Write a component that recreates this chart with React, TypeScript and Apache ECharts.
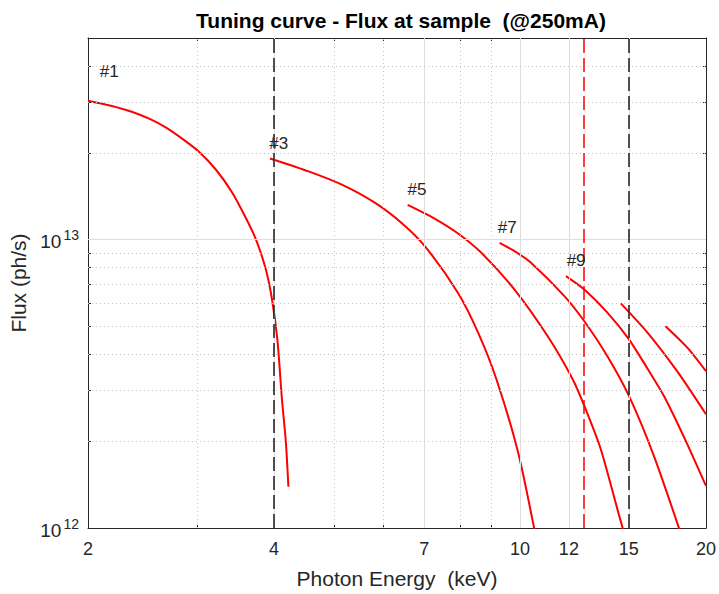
import React, { useEffect, useRef } from 'react';
import * as echarts from 'echarts';

// ---- axes ----
const xMin = 2;
const xMax = 20;
const yMin = 1e12;
const yMax = 5e13;
const xMajorTicks = [2, 4, 7, 10, 12, 15, 20];
const xMinorTicks = [3, 5, 6, 8, 9];
const yMajorTicks = [1e12, 1e13];
const yMinorTicks = [2e12, 3e12, 4e12, 5e12, 6e12, 7e12, 8e12, 9e12, 2e13, 3e13, 4e13];

// ---- harmonics (photon energy keV, flux ph/s) ----
const h1Energy = [2.0, 2.178, 2.36, 2.517, 2.68, 2.847, 3.03, 3.22, 3.42, 3.6, 3.74, 3.88, 3.97, 4.05, 4.12, 4.18, 4.22];
const h1Flux = [3.03e13, 2.91e13, 2.77e13, 2.62e13, 2.44e13, 2.23e13, 2.01e13, 1.75e13, 1.46e13, 1.19e13, 1.0e13, 7.87e12, 6.2e12, 4.51e12, 2.79e12, 1.99e12, 1.39e12];

const h3Energy = [3.94, 4.56, 5.15, 5.83, 6.44, 7.02, 7.94, 8.56, 9.16, 9.93, 10.57];
const h3Flux = [1.91e13, 1.72e13, 1.55e13, 1.34e13, 1.14e13, 9.48e12, 6.53e12, 4.75e12, 3.28e12, 1.83e12, 0.97e12];

const h5Energy = [6.58, 7.24, 7.94, 8.66, 9.8, 11.09, 12.17, 12.71, 13.51, 14.38, 14.7];
const h5Flux = [1.32e13, 1.19e13, 1.05e13, 9.0e12, 6.71e12, 4.62e12, 3.28e12, 2.65e12, 1.88e12, 1.16e12, 0.98e12];

const h7Energy = [9.27, 9.84, 10.43, 11.8, 12.71, 13.85, 15.01, 16.47, 18.14];
const h7Flux = [9.75e12, 9.07e12, 8.3e12, 6.37e12, 5.21e12, 3.94e12, 2.87e12, 1.78e12, 0.98e12];

const h9Energy = [11.87, 12.71, 13.85, 15.01, 16.07, 17.1, 18.5, 20.0];
const h9Flux = [7.47e12, 6.71e12, 5.58e12, 4.51e12, 3.58e12, 2.87e12, 2.03e12, 1.4e12];

const h11Energy = [14.56, 16.07, 17.97, 20.0];
const h11Flux = [6.01e12, 4.77e12, 3.49e12, 2.48e12];

const h13Energy = [17.2, 18.64, 20.0];
const h13Flux = [5.01e12, 4.23e12, 3.5e12];

const harmonicNames = ['#1', '#3', '#5', '#7', '#9', '#11', '#13'];
const harmonicEnergy = [h1Energy, h3Energy, h5Energy, h7Energy, h9Energy, h11Energy, h13Energy];
const harmonicFlux = [h1Flux, h3Flux, h5Flux, h7Flux, h9Flux, h11Flux, h13Flux];

// ---- annotations ----
const labelNames = ['#1', '#3', '#5', '#7', '#9'];
const labelEnergy = [2.09, 3.93, 6.58, 9.21, 11.9];
const labelFlux = [3.83e13, 2.16e13, 1.49e13, 1.1e13, 8.44e12];

const blackMarkers = [4, 15];
const redMarkers = [12.66];

const titleText = 'Tuning curve - Flux at sample  (@250mA)';
const xName = 'Photon Energy  (keV)';
const yName = 'Flux (ph/s)';

const FONT = "'Liberation Sans', Arial, Helvetica, sans-serif";
const AX = '#262626';
const lg = (v: number) => Math.log10(v);

function xTickAxis(values: number[], len: number, position: string, labels: boolean, line: boolean) {
  return {
    type: 'value',
    gridIndex: 0,
    position,
    min: lg(xMin),
    max: lg(xMax),
    axisLine: { show: line, onZero: false, lineStyle: { color: AX, width: 1 } },
    axisTick: { show: true, inside: true, length: len, customValues: values.map(lg), lineStyle: { color: AX, width: 1 } },
    axisLabel: labels
      ? {
          show: true,
          customValues: values.map(lg),
          formatter: (v: number) => String(Math.round(Math.pow(10, v))),
          color: AX,
          fontSize: 18,
          fontFamily: FONT,
          margin: 12,
        }
      : { show: false },
    splitLine: { show: false },
    ...(labels
      ? {
          name: xName,
          nameLocation: 'middle',
          nameGap: 40,
          nameTextStyle: { color: AX, fontSize: 21, fontFamily: FONT },
        }
      : {}),
  };
}

function yTickAxis(values: number[], len: number, position: string, labels: boolean, line: boolean) {
  return {
    type: 'value',
    gridIndex: 0,
    position,
    min: lg(yMin),
    max: lg(yMax),
    axisLine: { show: line, onZero: false, lineStyle: { color: AX, width: 1 } },
    axisTick: { show: true, inside: true, length: len, customValues: values.map(lg), lineStyle: { color: AX, width: 1 } },
    axisLabel: labels
      ? {
          show: true,
          customValues: values.map(lg),
          formatter: (v: number) => `{b|10}{s|${Math.round(v)}}`,
          margin: 9,
          rich: {
            b: { fontSize: 19, fontFamily: FONT, color: AX, verticalAlign: 'bottom' },
            s: { fontSize: 14, fontFamily: FONT, color: AX, verticalAlign: 'bottom', padding: [0, 0, 9, 2] },
          },
        }
      : { show: false },
    splitLine: { show: false },
    ...(labels
      ? {
          name: yName,
          nameLocation: 'middle',
          nameGap: 56,
          nameTextStyle: { color: AX, fontSize: 21, fontFamily: FONT },
        }
      : {}),
  };
}

export default function App() {
  const ref = useRef<HTMLDivElement>(null);

  useEffect(() => {
    if (!ref.current) return;
    const chart = echarts.init(ref.current, undefined, { renderer: 'svg' });

    const dotted = { color: '#c4c4c4', width: 1, type: [1, 3] };
    const solid = { color: '#dedede', width: 1, type: 'solid' };
    const gridLines: any[] = [
      ...xMinorTicks.map((v) => ({ xAxis: v, lineStyle: dotted })),
      ...xMajorTicks.filter((v) => v > xMin && v < xMax).map((v) => ({ xAxis: v, lineStyle: solid })),
      ...yMinorTicks.map((v) => ({ yAxis: v, lineStyle: dotted })),
      ...yMajorTicks.filter((v) => v > yMin && v < yMax).map((v) => ({ yAxis: v, lineStyle: solid })),
    ];

    const markerLines: any[] = [
      ...blackMarkers.map((v) => ({ xAxis: v, lineStyle: { color: '#1a1a1a', width: 1.5, type: [14, 5] } })),
      ...redMarkers.map((v) => ({ xAxis: v, lineStyle: { color: '#ff0000', width: 1.5, type: [14, 5] } })),
    ];

    const curveSeries = harmonicNames.map((name, k) => ({
      name,
      type: 'line',
      xAxisIndex: 0,
      yAxisIndex: 0,
      data: harmonicEnergy[k].map((e, i) => [e, harmonicFlux[k][i]]),
      showSymbol: false,
      symbol: 'none',
      smooth: 0.25,
      clip: true,
      z: 4,
      lineStyle: { color: '#ff0000', width: 2, join: 'round' },
    }));

    const option: any = {
      animation: false,
      backgroundColor: '#ffffff',
      grid: { left: 88, right: 10, top: 38, bottom: 65, containLabel: false },
      graphic: [
        {
          type: 'text',
          x: 401,
          y: 20,
          style: {
            text: titleText,
            font: `bold 21px ${FONT}`,
            fill: '#000000',
            align: 'center',
            verticalAlign: 'middle',
            textAlign: 'center',
            textVerticalAlign: 'middle',
          },
        },
      ],
      xAxis: [
        {
          type: 'log',
          logBase: 10,
          min: xMin,
          max: xMax,
          position: 'bottom',
          axisLine: { show: true, onZero: false, lineStyle: { color: AX, width: 1 } },
          axisTick: { show: false },
          axisLabel: { show: false },
          splitLine: { show: false },
          minorTick: { show: false },
          minorSplitLine: { show: false },
        },
        xTickAxis(xMajorTicks, 6, 'bottom', true, false),
        xTickAxis(xMinorTicks, 3, 'bottom', false, false),
        xTickAxis(xMajorTicks, 6, 'top', false, true),
        xTickAxis(xMinorTicks, 3, 'top', false, false),
      ],
      yAxis: [
        {
          type: 'log',
          logBase: 10,
          min: yMin,
          max: yMax,
          position: 'left',
          axisLine: { show: true, onZero: false, lineStyle: { color: AX, width: 1 } },
          axisTick: { show: false },
          axisLabel: { show: false },
          splitLine: { show: false },
          minorTick: { show: false },
          minorSplitLine: { show: false },
        },
        yTickAxis(yMajorTicks, 6, 'left', true, false),
        yTickAxis(yMinorTicks, 3, 'left', false, false),
        yTickAxis(yMajorTicks, 6, 'right', false, true),
        yTickAxis(yMinorTicks, 3, 'right', false, false),
      ],
      series: [
        {
          name: 'grid',
          type: 'line',
          xAxisIndex: 0,
          yAxisIndex: 0,
          data: [],
          z: 1,
          silent: true,
          markLine: {
            silent: true,
            symbol: ['none', 'none'],
            label: { show: false },
            data: gridLines,
          },
        },
        {
          name: 'markers',
          type: 'line',
          xAxisIndex: 0,
          yAxisIndex: 0,
          data: [],
          z: 2,
          silent: true,
          markLine: {
            silent: true,
            symbol: ['none', 'none'],
            label: { show: false },
            data: markerLines,
          },
        },
        ...curveSeries,
        {
          name: 'labels',
          type: 'scatter',
          xAxisIndex: 0,
          yAxisIndex: 0,
          symbolSize: 0,
          itemStyle: { color: '#262626', opacity: 1 },
          z: 5,
          silent: true,
          data: labelEnergy.map((e, i) => [e, labelFlux[i], labelNames[i]]),
          label: {
            show: true,
            position: 'right',
            distance: 0,
            formatter: (p: any) => p.data[2],
            color: '#262626',
            opacity: 1,
            textBorderWidth: 0,
            fontSize: 17,
            fontFamily: FONT,
          },
        },
      ],
    };

    chart.setOption(option);
    return () => {
      chart.dispose();
    };
  }, []);

  return (
    <div
      ref={ref}
      style={{ position: 'fixed', left: 0, top: 0, width: 719, height: 594, background: '#ffffff' }}
    />
  );
}
